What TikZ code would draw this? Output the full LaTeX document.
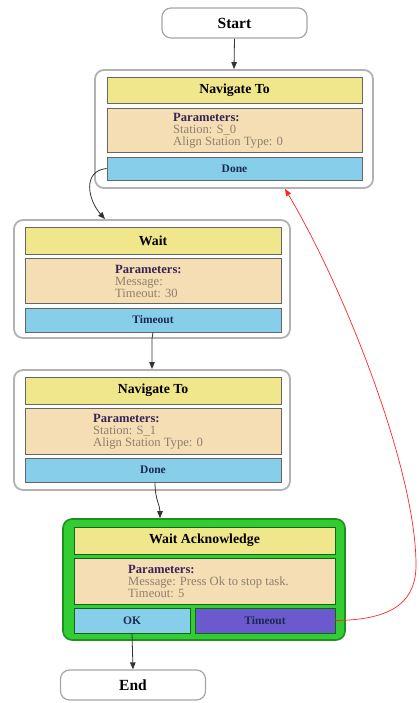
\documentclass[tikz,border=0pt]{standalone}
\usepackage{fontspec}
\setmainfont{Liberation Serif}
\usetikzlibrary{arrows.meta}

\definecolor{khaki}{HTML}{F0E68C}
\definecolor{wheat}{HTML}{F5DEB3}
\definecolor{skyblue}{HTML}{87CEEB}
\definecolor{slateblue}{HTML}{6A5ACD}
\definecolor{limegreen}{HTML}{32CD32}
\definecolor{darkgreen}{HTML}{1F8F1F}
\definecolor{paramhead}{HTML}{352458}
\definecolor{paramtext}{HTML}{8E8070}
\definecolor{btntext}{HTML}{1C2850}

\tikzset{
  terminal/.style={draw=gray!70, line width=1.2pt, rounded corners=9pt, fill=white,
    minimum width=145pt, minimum height=30pt, font=\bfseries\fontsize{15.5}{15.5}\selectfont},
  group/.style={draw=gray!60, line width=1.8pt, rounded corners=9pt, fill=white},
  accgroup/.style={draw=darkgreen, line width=1.6pt, rounded corners=9pt, fill=limegreen},
  titlebox/.style={draw=black!60, line width=0.8pt, fill=khaki,
    font=\bfseries\fontsize{13.8}{13.8}\selectfont},
  parambox/.style={draw=black!60, line width=0.8pt, fill=wheat},
  btn/.style={draw=black!60, line width=0.8pt, fill=skyblue, text=btntext,
    font=\bfseries\fontsize{11.5}{11.5}\selectfont},
  params/.style={anchor=west, align=left, inner sep=0pt, text=paramtext,
    font=\fontsize{12.6}{12}\selectfont},
  flow/.style={draw=black!80, line width=0.8pt, -{Triangle[length=7pt,width=5.5pt]}},
  back/.style={draw=red!85, line width=0.7pt, -{Triangle[length=7pt,width=5.5pt]}},
}

\begin{document}
\begin{tikzpicture}[x=1pt, y=-1pt]
\useasboundingbox (0,0) rectangle (418,703);

% start / end terminals
\node[terminal] (start) at (234.5,23) {Start};
\node[terminal] (end) at (133,685) {End};

% Navigate To (S_0)
\node[group, minimum width=278pt, minimum height=118pt] (nav1) at (234,129) {};
\node[titlebox, minimum width=255pt, minimum height=26pt] (nav1t) at (234.5,90) {Navigate To};
\node[parambox, minimum width=255pt, minimum height=44pt] (nav1p) at (234.5,130) {};
\node[params] (nav1x) at (173,131) {\textbf{\textcolor{paramhead}{Parameters:}}\\Station: S\_0\\Align Station Type: 0};
\node[btn, minimum width=255pt, minimum height=23pt] (nav1d) at (234.5,168.5) {Done};

% Wait
\node[group, minimum width=276pt, minimum height=118pt] (wait) at (152,279) {};
\node[titlebox, minimum width=256pt, minimum height=27pt] (waitt) at (153,240.5) {Wait};
\node[parambox, minimum width=256pt, minimum height=45pt] (waitp) at (153,280.5) {};
\node[params] (waitx) at (115,281) {\textbf{\textcolor{paramhead}{Parameters:}}\\Message:\\Timeout: 30};
\node[btn, minimum width=256pt, minimum height=24pt] (waitd) at (153,320) {Timeout};

% Navigate To (S_1)
\node[group, minimum width=276pt, minimum height=120pt] (nav2) at (152,430) {};
\node[titlebox, minimum width=256pt, minimum height=27pt] (nav2t) at (153,390.5) {Navigate To};
\node[parambox, minimum width=256pt, minimum height=46pt] (nav2p) at (153,431) {};
\node[params] (nav2x) at (93,431.5) {\textbf{\textcolor{paramhead}{Parameters:}}\\Station: S\_1\\Align Station Type: 0};
\node[btn, minimum width=256pt, minimum height=24pt] (nav2d) at (153,470) {Done};

% Wait Acknowledge (active)
\node[accgroup, minimum width=282pt, minimum height=121pt] (ack) at (204,579.5) {};
\node[titlebox, draw=darkgreen!70!black, minimum width=261pt, minimum height=27pt] (ackt) at (204.5,540.5) {Wait Acknowledge};
\node[parambox, draw=darkgreen!70!black, minimum width=261pt, minimum height=46pt] (ackp) at (204.5,581) {};
\node[params] (ackx) at (128,581.5) {\textbf{\textcolor{paramhead}{Parameters:}}\\Message: Press Ok to stop task.\\Timeout: 5};
\node[btn, draw=darkgreen!70!black, minimum width=116pt, minimum height=25pt] (ackok) at (132,620.5) {OK};
\node[btn, draw=darkgreen!70!black, fill=slateblue, minimum width=140pt, minimum height=25pt] (ackto) at (265,620.5) {Timeout};

% connectors
\draw[flow] (start.south) -- (nav1.north);
\draw[flow] (nav1d.west) .. controls (82,171) and (88,200) .. ([xshift=-47pt]wait.north);
\draw[flow] (waitd.south) -- (wait.south) -- (nav2.north);
\draw[flow] ([xshift=2pt]nav2d.south) .. controls (155,500) and (160,505) .. ([xshift=-44pt]ack.north);
\draw[flow] (ackok.south) -- (end.north);
\draw[back] (ackto.east) .. controls (395,620) and (416,600) .. (416,565)
  .. controls (416,470) and (345,290) .. ([xshift=51pt]nav1.south);
\end{tikzpicture}
\end{document}
